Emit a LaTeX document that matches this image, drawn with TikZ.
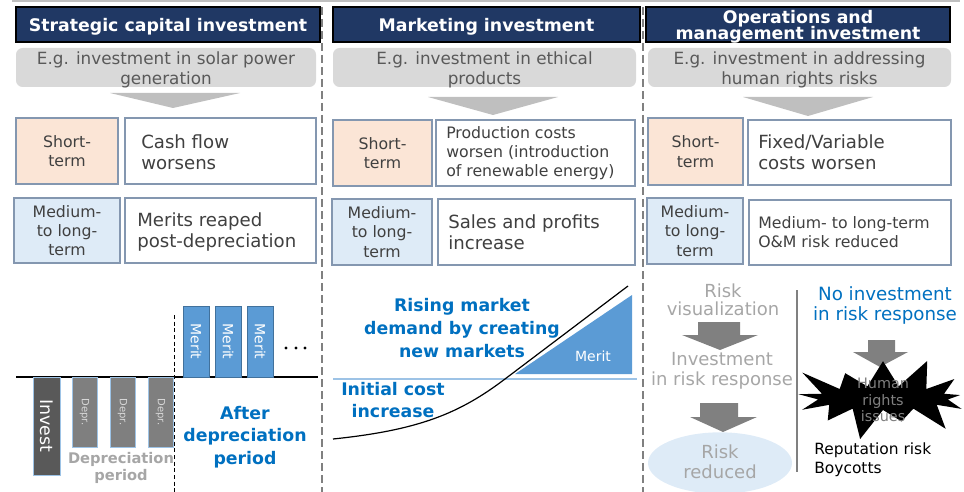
\documentclass[tikz,border=0pt]{standalone}
\usepackage{fontspec}
\setmainfont{DejaVu Sans}
\usetikzlibrary{shapes.symbols,shapes.geometric}
\definecolor{navy}{HTML}{203864}
\definecolor{egray}{HTML}{D9D9D9}
\definecolor{egtext}{HTML}{595959}
\definecolor{chevc}{HTML}{BFBFBF}
\definecolor{peach}{HTML}{FBE5D6}
\definecolor{lblue}{HTML}{DEEBF7}
\definecolor{bordc}{HTML}{8497B0}
\definecolor{dtext}{HTML}{404040}
\definecolor{bluet}{HTML}{0070C0}
\definecolor{meritc}{HTML}{5B9BD5}
\definecolor{meritb}{HTML}{41719C}
\definecolor{lline}{HTML}{9DC3E6}
\definecolor{invc}{HTML}{595959}
\definecolor{deprc}{HTML}{7F7F7F}
\definecolor{lgray}{HTML}{A6A6A6}
\definecolor{arrc}{HTML}{808080}
\newcommand\bx[7]{\node[#1, minimum width={(#5-#3)*0.75pt}, minimum height={(#6-#4)*0.75pt}] (#2) at ({(#3+#5)/2},{(#4+#6)/2}) {#7};}
\newcommand\bxt[8]{\node[#1, minimum width={(#6-#4)*0.75pt}, minimum height={(#7-#5)*0.75pt}] (#3) at ({(#4+#6)/2},{(#5+#7)/2}) {};
  \node[#2] (#3t) at ([yshift=-1.8pt]#3.center) {#8};}
\begin{document}
\begin{tikzpicture}[x=0.75pt,y=-0.75pt,
  hdr/.style={fill=navy, draw=black, line width=0.8pt, inner sep=0pt},
  hdrt/.style={text=white, font=\bfseries\fontsize{13}{13.5}\selectfont, inner sep=0pt, align=center},
  eg/.style={fill=egray, rounded corners=5pt, inner sep=0pt},
  egt/.style={text=egtext, font=\fontsize{12.6}{15}\selectfont, inner sep=0pt, align=center},
  chev/.style={fill=chevc},
  term/.style={draw=bordc, line width=0.9pt, text=dtext, font=\fontsize{11.8}{14.5}\selectfont, inner sep=0pt, align=center},
  shortt/.style={term, fill=peach},
  medt/.style={term, fill=lblue},
  res/.style={draw=bordc, line width=0.9pt, fill=white, inner sep=0pt},
  restxt/.style={anchor=west, text=dtext, align=left, inner sep=0pt},
  big/.style={restxt, font=\fontsize{13.6}{16}\selectfont},
  small/.style={restxt, font=\fontsize{11.8}{14.25}\selectfont},
  sep/.style={draw=arrc, line width=1.2pt, dash pattern=on 6pt off 3pt},
  bluelab/.style={text=bluet, font=\bfseries\fontsize{13}{17}\selectfont, align=center, inner sep=0pt},
  graylab/.style={text=lgray, font=\fontsize{13.5}{13.5}\selectfont, align=center, inner sep=0pt},
  bararr/.style={fill=arrc},
  vtext/.style={rotate=-90, inner sep=0pt}
]
\useasboundingbox (0,0) rectangle (964,492);
\draw[chevc, line width=1.2pt] (12,1) -- (960,1);

% separators
\coordinate (s1t) at (322,7); \coordinate (s1b) at (322,492);
\coordinate (s2t) at (643,7); \coordinate (s2b) at (643,492);
\draw[sep] (s1t) -- (s1b);
\draw[sep] (s2t) -- (s2b);

% ---------- Column 1 ----------
\bxt{hdr}{hdrt}{h1}{16}{7}{320}{42}{Strategic capital investment}
\bxt{eg}{egt}{e1}{16}{48}{316}{87}{E.g. investment in solar power\\generation}
\fill[chev] (110,93) -- (240,93) -- (173,108) -- cycle;
\bx{shortt}{s1}{16}{118}{118}{184}{Short-\\term}
\bx{res}{r1}{125}{118}{316}{184}{}
\node[big] (r1t) at (141,152) {Cash flow\\worsens};
\bx{medt}{m1}{14}{198}{120}{263}{Medium-\\to long-\\term}
\bx{res}{r1b}{125}{198}{316}{263}{}
\node[big] (r1bt) at (137,232) {Merits reaped\\post-depreciation};

\coordinate (bl0) at (16,377); \coordinate (bl1) at (318,377);
\draw[black, line width=1.2pt] (bl0) -- (bl1);
\bx{fill=invc, draw=lline, line width=0.6pt, inner sep=0pt}{inv}{33}{377}{60}{475}{}
\node[vtext, text=white, font=\fontsize{13}{13}\selectfont] (invt) at (inv.center) {Invest};
\foreach \i/\x in {1/72,2/110,3/148}{
  \bx{fill=deprc, draw=lline, line width=0.4pt, inner sep=0pt}{dep\i}{\x}{377}{\x+25}{447}{}
  \node[vtext, text=egray, font=\fontsize{7.5}{7.5}\selectfont] (dept\i) at (dep\i.center) {Depr.};
}
\coordinate (dl0) at (174,315); \coordinate (dl1) at (174,492);
\draw[black, line width=0.6pt, dash pattern=on 3pt off 2pt] (dl0) -- (dl1);
\foreach \i/\x in {1/183,2/215,3/247}{
  \bx{fill=meritc, draw=meritb, line width=0.5pt, inner sep=0pt}{mer\i}{\x}{306}{\x+26}{377}{}
  \node[vtext, text=white, font=\fontsize{10.5}{10.5}\selectfont] (mert\i) at (mer\i.center) {Merit};
}
\foreach \x in {286,296,305}{\fill[black] (\x,348) circle (1.6);}
\node[text=lgray, font=\bfseries\fontsize{11}{12.75}\selectfont, align=center, inner sep=0pt] (dp) at (121,468) {Depreciation\\period};
\node[bluelab] (adp) at (245,437) {After\\depreciation\\period};

% ---------- Column 2 ----------
\bxt{hdr}{hdrt}{h2}{333}{7}{640}{42}{Marketing investment}
\bxt{eg}{egt}{e2}{333}{48}{636}{87}{E.g. investment in ethical\\products}
\fill[chev] (428,97) -- (558,97) -- (493,115) -- cycle;
\bx{shortt}{s2}{333}{120}{432}{186}{Short-\\term}
\bx{res}{r2}{436}{120}{635}{186}{}
\node[small] (r2t) at (446,153) {Production costs\\worsen (introduction\\of renewable energy)};
\bx{medt}{m2}{332}{199}{432}{265}{Medium-\\to long-\\term}
\bx{res}{r2b}{438}{199}{635}{265}{}
\node[big] (r2bt) at (448,232) {Sales and profits\\increase};

\coordinate (hl0) at (333,379); \coordinate (hl1) at (637,379);
\draw[lline, line width=1.6pt] (hl0) -- (hl1);
\fill[meritc] (515,374) -- (632,374) -- (632,295) -- cycle;
\node[text=white, font=\fontsize{10.5}{10.5}\selectfont, inner sep=0pt] (mt) at (593,356) {Merit};
\coordinate (c0) at (333,439); \coordinate (cm) at (505,379); \coordinate (c1) at (628,286);
\draw[black, line width=0.9pt] (c0) .. controls (420,430) and (460,413) .. (cm) -- (c1);
\node[bluelab] (rise) at (462,328) {Rising market\\demand by creating\\new markets};
\node[bluelab, font=\bfseries\fontsize{13}{16.5}\selectfont] (ini) at (393,400) {Initial cost\\increase};

% ---------- Column 3 ----------
\bxt{hdr}{hdrt}{h3}{646}{7}{950}{42}{Operations and\\[-1.5pt]management investment}
\bxt{eg}{egt}{e3}{648}{48}{951}{87}{E.g. investment in addressing\\human rights risks}
\fill[chev] (743,97) -- (873,97) -- (808,116) -- cycle;
\bx{shortt}{s3}{648}{118}{743}{185}{Short-\\term}
\bx{res}{r3}{748}{120}{951}{185}{}
\node[big] (r3t) at (758,152) {Fixed/Variable\\costs worsen};
\bx{medt}{m3}{647}{198}{743}{264}{Medium-\\to long-\\term}
\bx{res}{r3b}{749}{200}{951}{265}{}
\node[small] (r3bt) at (758,232) {Medium- to long-term\\O\&M risk reduced};

\node[graylab] (rv) at (723,300) {Risk\\visualization};
\fill[bararr] (698,322) -- (740,322) -- (740,335) -- (758,335) -- (720,350) -- (682,335) -- (698,335) -- cycle;
\node[graylab, font=\fontsize{13.5}{15}\selectfont] (irr) at (722,371) {Investment\\in risk response};
\fill[bararr] (700,403) -- (738,403) -- (738,417) -- (757,417) -- (723,432) -- (690,417) -- (700,417) -- cycle;
\node[ellipse, fill=lblue, minimum width=108pt, minimum height=46pt, inner sep=0pt] (rr) at (720,463) {};
\node[graylab, font=\fontsize{13.5}{15}\selectfont] (rrt) at (720,462) {Risk\\reduced};

\coordinate (v0) at (797,290); \coordinate (v1) at (797,472);
\draw[arrc, line width=1.2pt] (v0) -- (v1);
\node[text=bluet, font=\fontsize{13.7}{15}\selectfont, align=center, inner sep=0pt] (noinv) at (885,305) {No investment\\in risk response};
\fill[bararr] (868,340) -- (895,340) -- (895,352) -- (908,352) -- (880,367) -- (853,352) -- (868,352) -- cycle;
\node[starburst, fill=black, minimum width=150pt, minimum height=70pt, inner sep=0pt, starburst point height=26pt, starburst points=13] (star) at (883,398) {};
\node[text=arrc, font=\fontsize{10.8}{12.5}\selectfont, align=center, inner sep=0pt] (hri) at (883,400) {Human\\rights\\issues};
\node[text=black, font=\fontsize{11.6}{14.5}\selectfont, align=left, anchor=west, inner sep=0pt] (rep) at (814,460) {Reputation risk\\Boycotts};
\end{tikzpicture}
\end{document}
